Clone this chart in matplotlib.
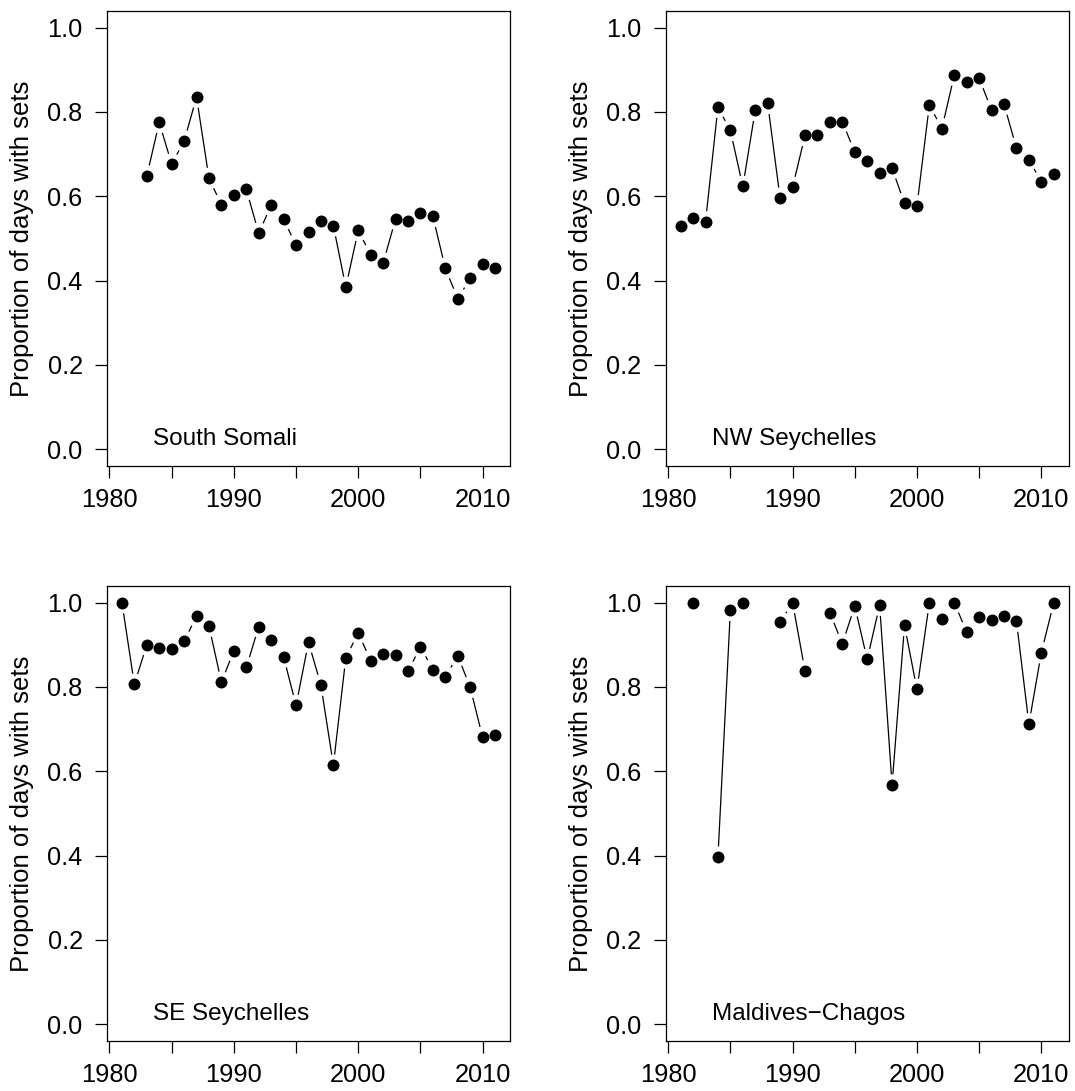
import numpy as np
import matplotlib
matplotlib.use("Agg")
import matplotlib.pyplot as plt
from matplotlib.ticker import FormatStrFormatter

plt.rcParams['font.family'] = ['Liberation Sans', 'DejaVu Sans']

# Proportion of fishing days with sets, by year and area
years = list(range(1981, 2012))

south_somali = [None, None, 0.648, 0.775, 0.676, 0.731, 0.835, 0.642, 0.580, 0.602,
                0.616, 0.512, 0.579, 0.545, 0.484, 0.516, 0.542, 0.530, 0.384, 0.519,
                0.461, 0.441, 0.546, 0.540, 0.559, 0.552, 0.429, 0.357, 0.405, 0.439,
                0.429]

nw_seychelles = [0.530, 0.548, 0.539, 0.811, 0.756, 0.623, 0.804, 0.820, 0.595, 0.621,
                 0.744, 0.744, 0.777, 0.777, 0.704, 0.683, 0.655, 0.666, 0.583, 0.577,
                 0.817, 0.760, 0.887, 0.872, 0.880, 0.804, 0.818, 0.714, 0.687, 0.634,
                 0.652]

se_seychelles = [1.000, 0.806, 0.900, 0.892, 0.891, 0.908, 0.968, 0.944, 0.811, 0.886,
                 0.846, 0.943, 0.911, 0.871, 0.756, 0.906, 0.804, 0.614, 0.869, 0.928,
                 0.862, 0.879, 0.875, 0.837, 0.895, 0.841, 0.824, 0.874, 0.799, 0.680,
                 0.687]

maldives_chagos = [None, 1.000, None, 0.396, 0.982, 1.000, None, None, 0.953, 1.000,
                   0.838, None, 0.976, 0.902, 0.992, 0.865, 0.994, 0.567, 0.946, 0.794,
                   1.000, 0.962, 1.000, 0.930, 0.966, 0.959, 0.968, 0.956, 0.712, 0.881,
                   1.000]

areas = ["South Somali", "NW Seychelles", "SE Seychelles", "Maldives\u2212Chagos"]
series = [south_somali, nw_seychelles, se_seychelles, maldives_chagos]

x_ticks = list(range(1980, 2011, 5))
x_ticklabels = ["1980", "", "1990", "", "2000", "", "2010"]
y_ticks = [0.0, 0.2, 0.4, 0.6, 0.8, 1.0]

W, H = 1075, 1091
fig = plt.figure(figsize=(W / 100, H / 100), dpi=100)

col_left = [107, 665.7]
row_top = [10.7, 585.7]
ax_w, ax_h = 403, 455.3

FS_TICK = 18.3
FS_LAB = 18.5
FS_NAME = 17.5
GAP = 10.8  # px gap between line segments and points


def draw_panel(ax, yrs, vals, name):
    x = np.array(yrs, dtype=float)
    y = np.array([np.nan if v is None else v for v in vals], dtype=float)
    ax.set_xlim(1979.8, 2012.2)
    ax.set_ylim(-0.04, 1.04)

    # connecting segments, shortened near each point
    tr = ax.transData
    inv = tr.inverted()
    for i in range(len(x) - 1):
        if np.isnan(y[i]) or np.isnan(y[i + 1]):
            continue
        p0 = tr.transform((x[i], y[i]))
        p1 = tr.transform((x[i + 1], y[i + 1]))
        d = np.hypot(*(p1 - p0))
        if d <= 2 * GAP:
            continue
        u = (p1 - p0) / d
        q0 = inv.transform(p0 + u * GAP)
        q1 = inv.transform(p1 - u * GAP)
        ax.plot([q0[0], q1[0]], [q0[1], q1[1]], color="black", lw=0.9,
                solid_capstyle="butt")

    ax.plot(x, y, linestyle="none", marker="o", markersize=8.6,
            color="black", markeredgewidth=0)

    ax.set_xticks(x_ticks)
    ax.set_xticklabels(x_ticklabels)
    ax.set_yticks(y_ticks)
    ax.yaxis.set_major_formatter(FormatStrFormatter("%.1f"))
    ax.tick_params(axis="both", direction="out", length=8.6, width=0.9,
                   labelsize=FS_TICK, colors="black")
    ax.tick_params(axis="y", pad=8.9)
    ax.tick_params(axis="x", pad=7.5)
    for s in ax.spines.values():
        s.set_linewidth(0.9)

    ax.text(-0.211, 0.5, "Proportion of days with sets", transform=ax.transAxes,
            rotation=90, ha="center", va="center", fontsize=FS_LAB)
    ax.text(0.115, 0.046, name, transform=ax.transAxes, ha="left",
            va="baseline", fontsize=FS_NAME)


for k, (name, vals) in enumerate(zip(areas, series)):
    r, c = divmod(k, 2)
    left = col_left[c] / W
    bottom = 1 - (row_top[r] + ax_h) / H
    ax = fig.add_axes([left, bottom, ax_w / W, ax_h / H])
    draw_panel(ax, years, vals, name)

fig.savefig("out.png", dpi=100)
